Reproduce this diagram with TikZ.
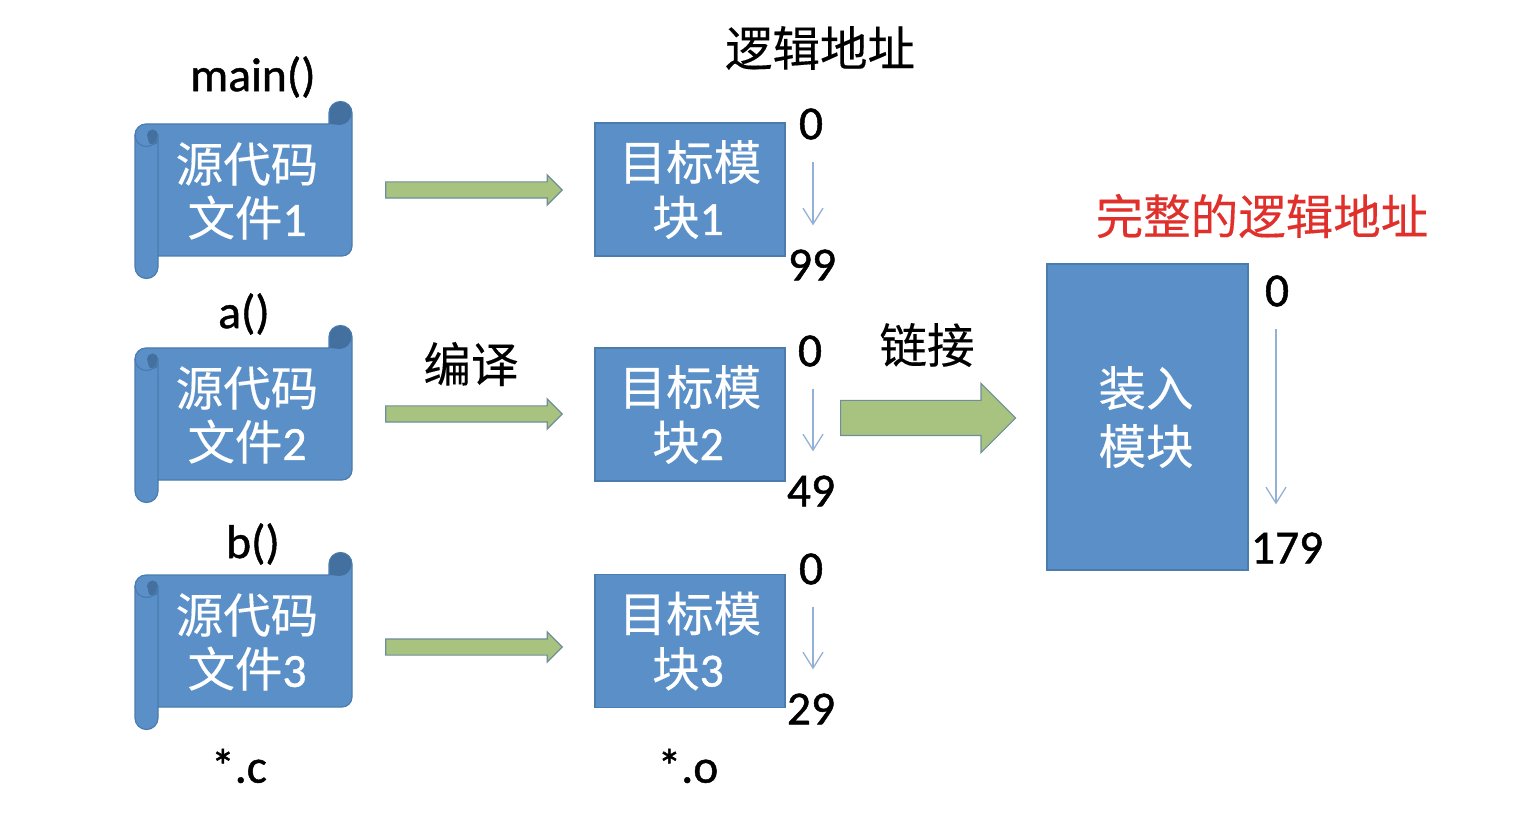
\documentclass[tikz,border=0pt]{standalone}
\usepackage{fontspec}
\setmainfont[FakeBold=1]{Carlito}
\newfontfamily\cjk[FakeBold=0.25]{Noto Sans CJK SC}
\usetikzlibrary{shapes.arrows, arrows.meta, positioning}
\definecolor{boxblue}{HTML}{5A8FC8}
\definecolor{boxedge}{HTML}{4A7CAE}
\definecolor{curlblue}{HTML}{44709F}
\definecolor{arrowgreen}{HTML}{A7C37F}
\definecolor{arrowedge}{HTML}{6F8E9B}
\definecolor{thinblue}{HTML}{93B1D6}
\definecolor{redtitle}{HTML}{E0302C}
\tikzset{
  x=1pt, y=1pt,
  scrollshape/.pic={
    \path[fill=boxblue, draw=boxedge, line width=1.2pt]
      (0,-11) arc[start angle=180, end angle=90, radius=11] -- (194,0) -- (194,11)
      arc[start angle=180, end angle=0, radius=11.5] -- (217,-122)
      arc[start angle=0, end angle=-90, radius=10] -- (23,-132) -- (23,-143)
      arc[start angle=0, end angle=-180, radius=11.5] -- cycle;
    \path[fill=curlblue]
      (194.5,0) -- (194.5,11) arc[start angle=180, end angle=0, radius=11]
      arc[start angle=0, end angle=-90, radius=12] -- cycle;
    \path[fill=curlblue]
      (12,-11) arc[start angle=180, end angle=0, radius=5.5] -- (23,-16)
      arc[start angle=0, end angle=-90, radius=5] -- (14,-19) -- cycle;
    \draw[boxedge, line width=1.2pt]
      (0,-11) arc[start angle=180, end angle=360, radius=11.5] -- (23,-132);
  },
  srcbox/.style={minimum width=210pt, minimum height=132pt, inner sep=0pt, text=white,
    align=center, font=\cjk\fontsize{47.5}{55}\selectfont},
  objbox/.style={rectangle, fill=boxblue, draw=boxedge, line width=1.2pt, text=white,
    minimum width=190pt, minimum height=133pt, inner sep=0pt,
    align=center, font=\cjk\fontsize{47.5}{55}\selectfont},
  flowarrow/.style={single arrow, fill=arrowgreen, draw=arrowedge, line width=1.2pt,
    anchor=tail, inner xsep=0pt, inner ysep=7.5pt, minimum height=176.5pt,
    single arrow head extend=7pt},
  linkarrow/.style={flowarrow, inner ysep=17pt, minimum height=175pt,
    single arrow head extend=17pt},
  numlabel/.style={inner sep=0pt, font=\fontsize{47.5}{47.5}\selectfont},
  cnlabel/.style={inner sep=0pt, font=\cjk\fontsize{47.5}{47.5}\selectfont},
  thinarrow/.style={draw=thinblue, line width=1.3pt, shorten <=22pt, shorten >=24pt,
    -{Straight Barb[length=16pt,width=20pt]}}
}
\begin{document}
\begin{tikzpicture}
\useasboundingbox (0,0) rectangle (1515,831);

% source files
\pic at (135,707) {scrollshape};
\pic at (135,483) {scrollshape};
\pic at (135,256) {scrollshape};
\node[srcbox, yshift=-1pt] (src1) at (247,641) {\raisebox{-1pt}{源代码}\\文件{\rmfamily 1}};
\node[srcbox, yshift=-1pt] (src2) at (247,417) {\raisebox{-1pt}{源代码}\\文件{\rmfamily 2}};
\node[srcbox, yshift=-1pt] (src3) at (247,190) {\raisebox{-1pt}{源代码}\\文件{\rmfamily 3}};

% object modules
\node[objbox] (obj1) at (690,641.5) {\raisebox{-1pt}{目标模}\\[1pt]\hspace*{-4pt}块{\rmfamily 1}};
\node[objbox] (obj2) at (690,416.5) {\raisebox{-1pt}{目标模}\\[1pt]\hspace*{-4pt}块{\rmfamily 2}};
\node[objbox] (obj3) at (690,190) {\raisebox{-1pt}{目标模}\\[1pt]\hspace*{-4pt}块{\rmfamily 3}};

% load module
\node[objbox, minimum width=201pt, minimum height=306pt, font=\cjk\fontsize{47.5}{58}\selectfont]
  (load) at (1147.5,414) {\hspace*{-3pt}装入\\\hspace*{-3pt}模块};

% block arrows
\node[flowarrow] (compile1) at ([xshift=33pt,yshift=1pt]src1.east) {};
\node[flowarrow] (compile2) at ([xshift=33pt,yshift=1pt]src2.east) {};
\node[flowarrow] (compile3) at ([xshift=33pt,yshift=-5pt]src3.east) {};
\node[linkarrow] (link) at (840,413) {};

% top labels
\node[numlabel] (fmain) at (253,754) {main()};
\node[numlabel] (fa) at (244,517) {a()};
\node[numlabel] (fb) at (253,287) {b()};
\node[numlabel] (extc) at (239,65) {*.c};
\node[numlabel] (exto) at (688,65) {*.o};
\node[cnlabel] (logic) at (820,783) {逻辑地址};
\node[cnlabel, text=redtitle] (whole) at (1262,615) {完整的逻辑地址};
\node[cnlabel] (compile) at (471,467) {编译};
\node[cnlabel] (linking) at (927,486) {链接};

% address ranges
\node[numlabel] (start1) at (811,707) {0};
\node[numlabel] (end1) at (812,566) {99};
\node[numlabel] (start2) at (810,480) {0};
\node[numlabel] (end2) at (811,340) {49};
\node[numlabel] (start3) at (811,262) {0};
\node[numlabel] (end3) at (811,122) {29};
\node[numlabel] (start4) at (1277,540) {0};
\node[numlabel] (end4) at (1287,283) {179};
\draw[thinarrow] ([xshift=2pt]start1.south) -- ([xshift=1pt]end1.north);
\draw[thinarrow] ([xshift=3pt]start2.south) -- ([xshift=2pt]end2.north);
\draw[thinarrow] ([xshift=2pt]start3.south) -- ([xshift=2pt]end3.north);
\draw[thinarrow, shorten >=28pt] ([xshift=-1pt]start4.south) -- ([xshift=-11pt]end4.north);
\end{tikzpicture}
\end{document}
